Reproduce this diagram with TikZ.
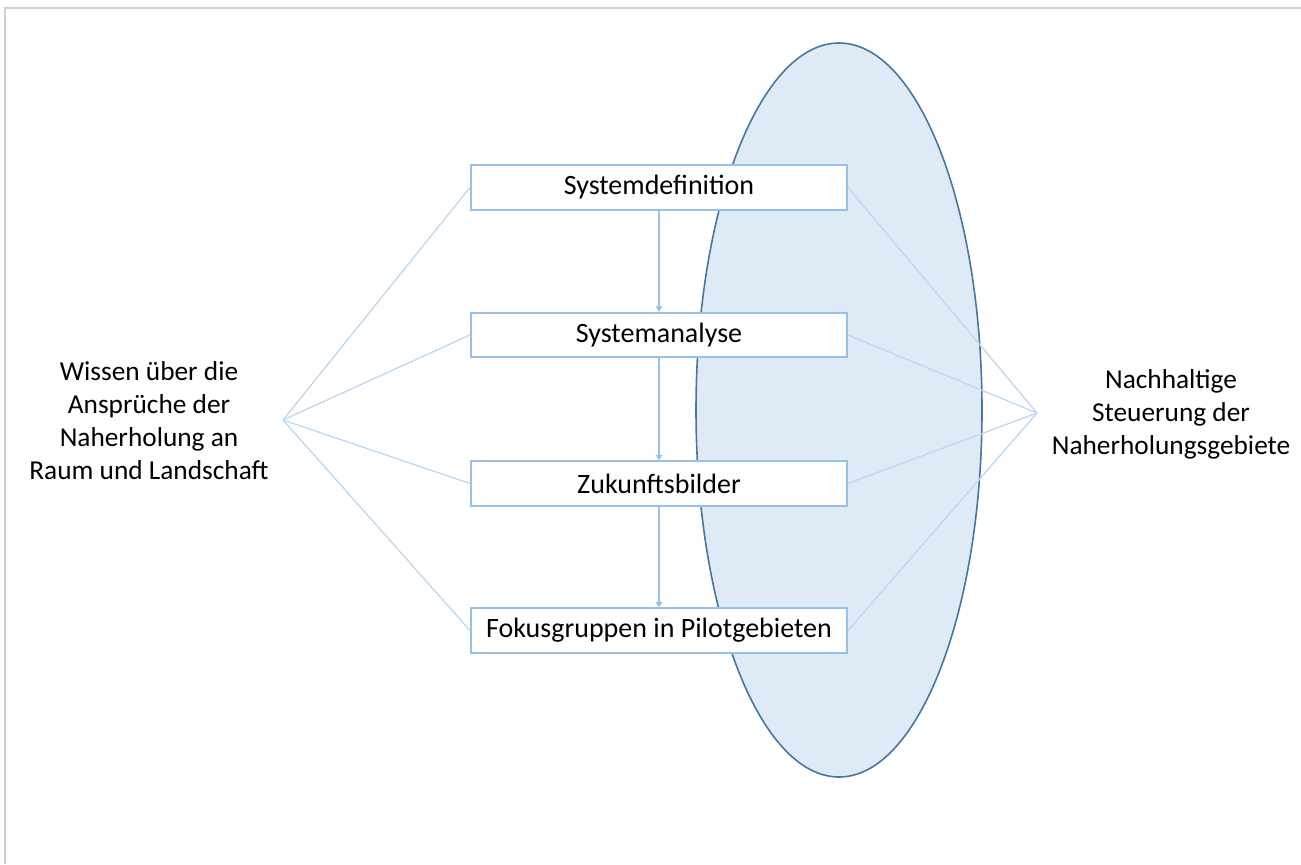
\documentclass[tikz,border=0pt]{standalone}
\usepackage{fontspec}
\setmainfont{Carlito}
\usetikzlibrary{arrows.meta,backgrounds}

\definecolor{rahmen}{RGB}{208,208,208}
\definecolor{ellfill}{RGB}{222,235,247}
\definecolor{ellrand}{RGB}{72,118,160}
\definecolor{kasten}{RGB}{150,192,232}
\definecolor{linie}{RGB}{190,216,240}

\tikzset{
  stufe/.style={draw=kasten, line width=1.5pt, fill=white,
    minimum width=282pt, minimum height=33.5pt, inner sep=0pt,
    font=\fontsize{21}{25}\selectfont},
  seite/.style={align=center, font=\fontsize{20.5}{24.8}\selectfont},
  verbind/.style={draw=linie, line width=1pt},
  pfeil/.style={draw=kasten, line width=0.9pt,
    -{Triangle[width=5pt,length=4pt]}}
}

\begin{document}
\begin{tikzpicture}[x=0.75pt,y=-0.75pt]
		
		% Rahmen und Bildgröße
		\useasboundingbox (0,0) rectangle (1301,864);
		\draw[rahmen, line width=1.5pt] (5,864) -- (5,8) -- (1301,8);
		
		% Seitentexte und Treffpunkte der Linien
		\node[seite] (wissen) at (149,421) {Wissen über die\\Ansprüche der\\Naherholung an\\Raum und Landschaft};
		\node[seite] (steuerung) at (1171,414) {Nachhaltige\\Steuerung der\\Naherholungsgebiete};
		\coordinate (links) at (283,420);
		\coordinate (rechts) at (1037,413);
		
		% Die vier Schritte
		\node[stufe] (sysdef) at (659,187.5) {Systemdefinition};
		\node[stufe] (sysana) at (659,335) {Systemanalyse};
		\node[stufe] (zukunft) at (659,483.5) {Zukunftsbilder};
		\node[stufe] (fokus) at (659,630.5) {Fokusgruppen in Pilotgebieten};
		
		% Pfeile zwischen den Schritten
		\draw[pfeil] (sysdef) -- (sysana);
		\draw[pfeil] (sysana) -- (zukunft);
		\draw[pfeil] (zukunft) -- (fokus);
		
		% Ellipse und Verbindungslinien hinter den Kästen
		\begin{scope}[on background layer]
		\draw[fill=ellfill, draw=ellrand, line width=1.2pt] (839,410) ellipse (143 and 367);
		\foreach \k in {sysdef,sysana,zukunft,fokus}{
			\path[verbind] (links) -- (\k.west);
			\path[verbind] (\k.east) -- (rechts);
		}
		\end{scope}
		
\end{tikzpicture}
\end{document}
